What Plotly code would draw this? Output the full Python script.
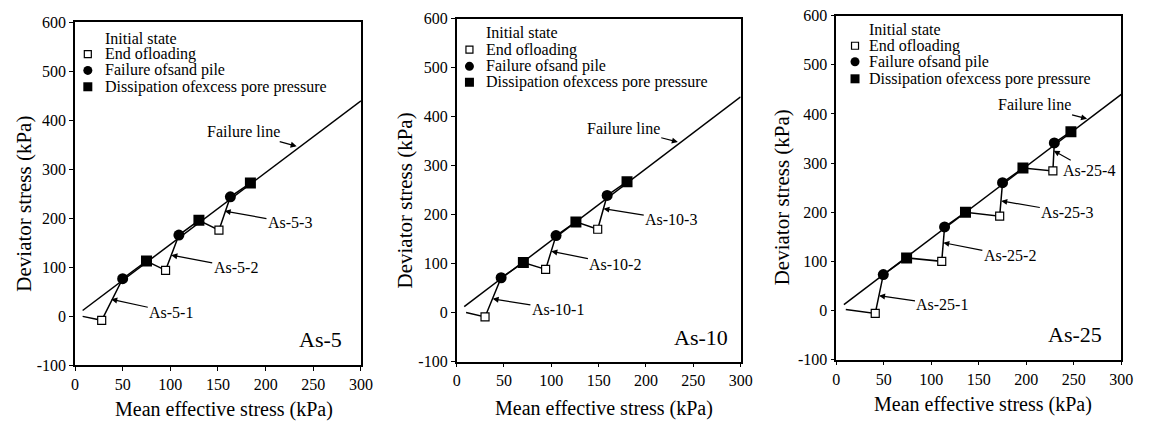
import plotly.graph_objects as go

# ---------------- data (kPa) ----------------
# stress paths: initial state, then repeated (end of loading, failure of sand pile, dissipation)
as5_p = [8, 28, 50, 75, 95, 109, 130, 151, 163, 184]
as5_q = [0, -8, 77, 113, 94, 166, 196, 176, 244, 272]

as10_p = [10, 30, 47, 70.5, 94, 105, 126, 149, 159, 180]
as10_q = [0, -9, 71, 102, 88, 157, 185, 170, 239, 267]

as25_p = [10, 41, 49.5, 74, 111, 114, 136, 172, 175, 196.5, 228, 229.5, 247]
as25_q = [2, -6, 73, 107, 100, 170, 200, 192, 260, 290, 284, 341, 364]

failure_p = [8, 300]
failure_q = [12, 440]

panel_names = ["As-5", "As-10", "As-25"]
x_ticks = [0, 50, 100, 150, 200, 250, 300]
y_ticks = [-100, 0, 100, 200, 300, 400, 500, 600]

legend_labels = ["Initial state", "End ofloading", "Failure ofsand pile",
                 "Dissipation ofexcess pore pressure"]

# ---------------- layout helpers ----------------
W, H = 1153, 432
FONT = "Liberation Serif"


def px(x):
    return x / W


def py(y):
    return 1 - y / H


# pixel frames of the three panels: (left, right, top, bottom)
frames = [(72, 362, 15, 372), (459, 747, 11, 368), (844, 1133, 8, 366)]

fig = go.Figure()

paths = [(as5_p, as5_q), (as10_p, as10_q), (as25_p, as25_q)]

for i, (pp, qq) in enumerate(paths):
    xa = "x" if i == 0 else f"x{i+1}"
    ya = "y" if i == 0 else f"y{i+1}"
    # stress path line
    fig.add_trace(go.Scatter(x=pp, y=qq, mode="lines", xaxis=xa, yaxis=ya,
                             line=dict(color="black", width=1.5), showlegend=False,
                             hoverinfo="skip"))
    # failure line
    fig.add_trace(go.Scatter(x=failure_p, y=failure_q, mode="lines", xaxis=xa, yaxis=ya,
                             line=dict(color="black", width=1.5), showlegend=False,
                             hoverinfo="skip"))
    eol_p, eol_q = pp[1::3], qq[1::3]
    fail_p, fail_q = pp[2::3], qq[2::3]
    diss_p, diss_q = pp[3::3], qq[3::3]
    fig.add_trace(go.Scatter(x=eol_p, y=eol_q, mode="markers", xaxis=xa, yaxis=ya,
                             marker=dict(symbol="square", size=8, color="white",
                                         line=dict(color="black", width=1.2)),
                             showlegend=False))
    fig.add_trace(go.Scatter(x=fail_p, y=fail_q, mode="markers", xaxis=xa, yaxis=ya,
                             marker=dict(symbol="circle", size=11, color="black"),
                             showlegend=False))
    fig.add_trace(go.Scatter(x=diss_p, y=diss_q, mode="markers", xaxis=xa, yaxis=ya,
                             marker=dict(symbol="square", size=11, color="black"),
                             showlegend=False))

axis_common = dict(showline=True, mirror=True, linecolor="black", linewidth=1.5,
                   ticks="outside", ticklen=4, tickcolor="black", tickwidth=1.2,
                   showgrid=False, zeroline=False,
                   tickfont=dict(family=FONT, size=16, color="black"))

layout = dict(width=W, height=H, margin=dict(l=0, r=0, t=0, b=0),
              paper_bgcolor="white", plot_bgcolor="white", showlegend=False)

for i, (l, r, t, b) in enumerate(frames):
    xk = "xaxis" if i == 0 else f"xaxis{i+1}"
    yk = "yaxis" if i == 0 else f"yaxis{i+1}"
    xa = "x" if i == 0 else f"x{i+1}"
    ya = "y" if i == 0 else f"y{i+1}"
    layout[xk] = dict(axis_common, domain=[px(l), px(r)], range=[0, 300], anchor=ya,
                      tickvals=x_ticks, ticktext=[str(v) for v in x_ticks])
    layout[yk] = dict(axis_common, domain=[py(b), py(t)], range=[-100, 600], anchor=xa,
                      tickvals=y_ticks, ticktext=[str(v) for v in y_ticks])

fig.update_layout(**layout)

annotations = []
shapes = []

# axis titles
xtitle_pos = [(223, 418), (608, 417), (993, 413)]
ytitle_pos = [(20, 204), (407, 200), (789, 197)]
for (x, y) in xtitle_pos:
    annotations.append(dict(text="Mean effective stress (kPa)", xref="paper", yref="paper",
                            x=px(x), y=py(y), showarrow=False, xanchor="center",
                            yanchor="middle", font=dict(family=FONT, size=20, color="black")))
for (x, y) in ytitle_pos:
    annotations.append(dict(text="Deviator stress (kPa)", xref="paper", yref="paper",
                            x=px(x), y=py(y), showarrow=False, textangle=-90,
                            xanchor="center", yanchor="middle",
                            font=dict(family=FONT, size=21, color="black")))

# legends: (symbol x, text x, row y list)
legend_pos = [(85, 100, [31.7, 48, 65, 82]),
              (472, 487, [26, 43.3, 60.7, 77.3]),
              (863, 875, [22.7, 39.3, 56, 73.7])]
for (sx, tx, rows) in legend_pos:
    for label, ry in zip(legend_labels, rows):
        annotations.append(dict(text=label, xref="paper", yref="paper", x=px(tx), y=py(ry),
                                showarrow=False, xanchor="left", yanchor="middle",
                                font=dict(family=FONT, size=16, color="black")))
    # open square
    shapes.append(dict(type="rect", xref="paper", yref="paper", xsizemode="pixel",
                       ysizemode="pixel", xanchor=px(sx), yanchor=py(rows[1]),
                       x0=-3.5, x1=3.5, y0=-3.5, y1=3.5,
                       line=dict(color="black", width=1.2), fillcolor="white"))
    # filled circle
    shapes.append(dict(type="circle", xref="paper", yref="paper", xsizemode="pixel",
                       ysizemode="pixel", xanchor=px(sx), yanchor=py(rows[2]),
                       x0=-4.5, x1=4.5, y0=-4.5, y1=4.5,
                       line=dict(color="black", width=0), fillcolor="black"))
    # filled square
    shapes.append(dict(type="rect", xref="paper", yref="paper", xsizemode="pixel",
                       ysizemode="pixel", xanchor=px(sx), yanchor=py(rows[3]),
                       x0=-4.5, x1=4.5, y0=-4.5, y1=4.5,
                       line=dict(color="black", width=0), fillcolor="black"))

# arrow labels in data coordinates: (panel, text, text_x, text_y, head_x, head_y)
arrow_labels = [
    (0, "As-5-1", 101, 8, 38, 35),
    (0, "As-5-2", 168.6, 100, 101, 125),
    (0, "As-5-3", 225.5, 191, 157, 215),
    (0, "Failure line", 177, 377, 232.5, 347),
    (1, "As-10-1", 107, 6.5, 38, 28),
    (1, "As-10-2", 167.7, 99, 100, 125),
    (1, "As-10-3", 226.7, 190, 155, 212),
    (1, "Failure line", 176, 376.5, 233.7, 348),
    (2, "As-25-1", 111.8, 11.8, 45, 30),
    (2, "As-25-2", 182.7, 111.4, 112.6, 138),
    (2, "As-25-3", 243.2, 200, 173.6, 223),
    (2, "As-25-4", 265.7, 285.4, 228.9, 325),
    (2, "Failure line", 208.7, 418.5, 264, 390),
]
for (k, txt, tx, ty, hx, hy) in arrow_labels:
    xa = "x" if k == 0 else f"x{k+1}"
    ya = "y" if k == 0 else f"y{k+1}"
    annotations.append(dict(text=txt, xref=xa, yref=ya, x=hx, y=hy, axref=xa, ayref=ya,
                            ax=tx, ay=ty, showarrow=True, arrowhead=2, arrowsize=1,
                            arrowwidth=1.2, arrowcolor="black", standoff=0,
                            font=dict(family=FONT, size=16, color="black")))

panel_label_pos = [(258, -47), (258, -50), (251.6, -49)]
for k, (name, (lx, ly)) in enumerate(zip(panel_names, panel_label_pos)):
    xa = "x" if k == 0 else f"x{k+1}"
    ya = "y" if k == 0 else f"y{k+1}"
    annotations.append(dict(text=name, xref=xa, yref=ya, x=lx, y=ly, showarrow=False,
                            xanchor="center", yanchor="middle",
                            font=dict(family=FONT, size=22, color="black")))

fig.update_layout(annotations=annotations, shapes=shapes)

fig.write_html("out.html")
